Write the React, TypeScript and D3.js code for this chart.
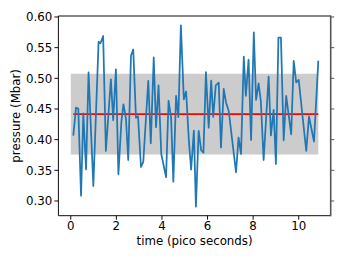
import React from "react";
import * as d3 from "d3";

const times = [
  0.11, 0.23, 0.33, 0.45, 0.55, 0.67, 0.78, 0.99, 1.22, 1.3, 1.42, 1.54, 1.76, 1.86, 1.98, 2.09,
  2.22, 2.31, 2.42, 2.52, 2.64, 2.74, 2.86, 2.95, 3.08, 3.18, 3.4, 3.51, 3.64, 3.74, 3.85, 3.97,
  4.18, 4.29, 4.4, 4.5, 4.62, 4.72, 4.83, 4.96, 5.06, 5.18, 5.28, 5.4, 5.49, 5.61, 5.72, 5.82,
  5.93, 6.05, 6.16, 6.25, 6.36, 6.49, 6.59, 6.71, 6.81, 6.93, 7.25, 7.36, 7.47, 7.59, 7.68, 7.8,
  7.91, 8.03, 8.13, 8.24, 8.34, 8.46, 8.68, 8.78, 8.9, 9.0, 9.11, 9.22, 9.34, 9.45, 9.67, 9.78,
  9.89, 10.0, 10.33, 10.45, 10.67, 10.86,
];
const pressure = [
  0.4065, 0.4521, 0.4505, 0.3086, 0.4427, 0.3514, 0.5095, 0.3244, 0.5597, 0.5571, 0.569, 0.3815,
  0.4984, 0.4316, 0.5147, 0.3435, 0.4293, 0.4577, 0.4348, 0.3668, 0.5369, 0.547, 0.4357, 0.4381,
  0.3554, 0.3636, 0.496, 0.3941, 0.534, 0.4203, 0.4883, 0.3766, 0.3388, 0.4634, 0.4365, 0.3315,
  0.4715, 0.4366, 0.5865, 0.4658, 0.4785, 0.3986, 0.351, 0.4149, 0.2907, 0.4145, 0.3827, 0.3787,
  0.51, 0.4193, 0.4961, 0.437, 0.4883, 0.4929, 0.3872, 0.4829, 0.4606, 0.4467, 0.3468, 0.4035,
  0.3766, 0.5353, 0.4712, 0.5304, 0.3995, 0.5747, 0.4647, 0.4919, 0.4619, 0.3668, 0.5027, 0.4068,
  0.4484, 0.3603, 0.5663, 0.5663, 0.399, 0.4712, 0.4087, 0.5283, 0.4932, 0.4973, 0.3815, 0.4378,
  0.3967, 0.5288,
];
const meanPressure = 0.4415;
const stdPressure = 0.0658;
const bandStart = 0;
const xTicks = [0, 2, 4, 6, 8, 10];
const yTicks = [0.3, 0.35, 0.4, 0.45, 0.5, 0.55, 0.6];

const W = 346;
const H = 259;
const L = 58.4, R = 330.7, T = 16, B = 215.7;
const FONT = "DejaVu Sans, sans-serif";
const FS = 11.8;

export default function App() {
  const x = d3.scaleLinear().domain([-0.543, 11.403]).range([L, R]);
  const y = d3.scaleLinear().domain([0.276, 0.6016]).range([B, T]);
  const pts: [number, number][] = times.map((t, i) => [t, pressure[i]]);
  const line = d3.line<[number, number]>().x((d) => x(d[0])).y((d) => y(d[1]));
  const tEnd = times[times.length - 1];
  const area = d3
    .area<number>()
    .x((d) => x(d))
    .y0(() => y(meanPressure - stdPressure))
    .y1(() => y(meanPressure + stdPressure));

  return (
    <svg width={W} height={H} style={{ position: "absolute", left: 0, top: 0, background: "#fff" }}>
      <path d={area([bandStart, tEnd]) || ""} fill="#cccccc" />
      <line x1={x(times[0])} x2={x(tEnd)} y1={y(meanPressure)} y2={y(meanPressure)} stroke="#ff0000" strokeWidth={1.75} />
      <path d={line(pts) || ""} fill="none" stroke="#1f77b4" strokeWidth={1.75} strokeLinejoin="round" />
      {/* spines */}
      <line x1={L} x2={L} y1={T} y2={B} stroke="#000" strokeWidth={0.95} />
      <line x1={L} x2={R} y1={B} y2={B} stroke="#000" strokeWidth={0.95} />
      <line x1={L} x2={R} y1={T} y2={T} stroke="#000" strokeWidth={0.95} />
      <line x1={R} x2={R} y1={T - 0.5} y2={B + 0.5} stroke="#555" strokeWidth={1.6} />
      {xTicks.map((t) => (
        <g key={"x" + t}>
          <line x1={x(t)} x2={x(t)} y1={B} y2={B + 4} stroke="#000" strokeWidth={0.95} />
          <text x={x(t)} y={B + 14.5} fontSize={FS} fontFamily={FONT} textAnchor="middle">
            {t}
          </text>
        </g>
      ))}
      {yTicks.map((v) => (
        <g key={"y" + v}>
          <line x1={L - 4} x2={L} y1={y(v)} y2={y(v)} stroke="#000" strokeWidth={0.95} />
          <line x1={R} x2={R + 3.5} y1={y(v)} y2={y(v)} stroke="#555" strokeWidth={1} />
          <text x={L - 6} y={y(v) + 4.2} fontSize={FS} fontFamily={FONT} textAnchor="end">
            {v.toFixed(2)}
          </text>
        </g>
      ))}
      <text x={(L + R) / 2} y={244.5} fontSize={FS} fontFamily={FONT} textAnchor="middle">
        time (pico seconds)
      </text>
      <text
        transform={`translate(${15.5}, ${(T + B) / 2}) rotate(-90)`}
        x={0}
        y={4}
        fontSize={FS}
        fontFamily={FONT}
        textAnchor="middle"
      >
        pressure (Mbar)
      </text>
    </svg>
  );
}
